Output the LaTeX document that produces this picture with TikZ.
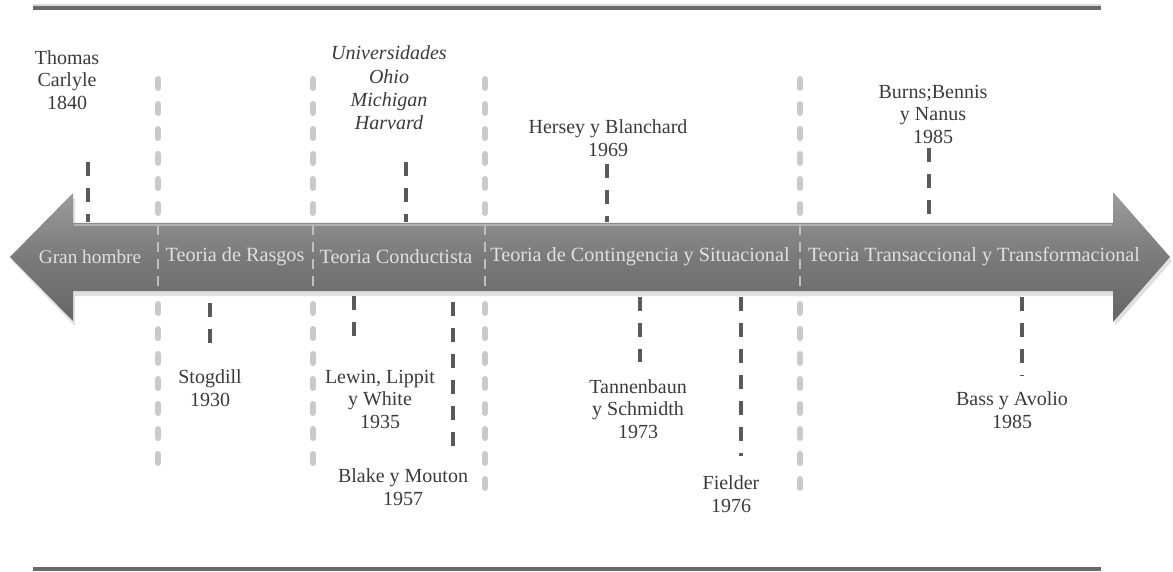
\documentclass[tikz,border=0pt]{standalone}
\usepackage{fontspec}
\setmainfont{Liberation Serif}
\usetikzlibrary{shadows}
\definecolor{txt}{HTML}{3A3A3A}
\definecolor{tick}{HTML}{5A5A5A}
\definecolor{sep}{HTML}{CACACA}
\definecolor{arrtop}{HTML}{9C9C9C}
\definecolor{arrmid}{HTML}{7A7A7A}
\definecolor{arrbot}{HTML}{666666}
\definecolor{rule}{HTML}{6A6A6A}
\begin{document}
\begin{tikzpicture}[x=1pt,y=-1pt,
  lbl/.style={align=center,text=txt,inner sep=0pt,font=\fontsize{20}{22.5}\selectfont},
  ilbl/.style={lbl,font=\fontsize{20}{23.3}\selectfont\itshape},
  phase/.style={text=white!88!black,inner sep=0pt,font=\fontsize{20.2}{22}\selectfont},
  tickline/.style={draw=tick,line width=3.5pt,dash pattern=on 14pt off 12pt},
  sepline/.style={draw=sep,line width=6pt,line cap=round,dash pattern=on 9pt off 16pt},
  sepin/.style={draw=white!75!black,line width=1.5pt,dash pattern=on 10pt off 7pt},
  rulerline/.style={draw=rule,line width=4.5pt}]
\useasboundingbox (0,0) rectangle (1173,572);
% top and bottom rules
\coordinate (r1a) at (33,8); \coordinate (r1b) at (1101,8);
\coordinate (r2a) at (33,569); \coordinate (r2b) at (1101,569);
\draw[draw=black!15,line width=4pt] ([yshift=2]r1a) -- ([yshift=2]r1b);
\draw[rulerline] (r1a) -- (r1b);
\draw[rulerline] (r2a) -- (r2b);
% separators (behind arrow)
\foreach \n/\x/\yb in {s1/158/478, s2/313/478, s3/485/488, s4/800/488}{
  \coordinate (\n a) at (\x,79);
  \coordinate (\n b) at (\x,\yb);
  \draw[sepline] (\n a) -- (\n b);
}
% double arrow
\path[fill=black!12] (12,261) -- (75,197) -- (75,227) -- (1115,227) -- (1115,196) -- (1172,261)
  -- (1115,326) -- (1115,296) -- (75,296) -- (75,326) -- cycle;
\shade[top color=arrtop,bottom color=arrbot,middle color=arrmid]
  (10,257) -- (73,193) -- (73,223) -- (1113,223) -- (1113,192) -- (1170,257)
  -- (1113,322) -- (1113,291) -- (73,291) -- (73,321) -- cycle;
\draw[white!70!black,line width=2pt] (74,225) -- (1112,225);
% thin separator marks inside arrow
\foreach \x in {158,313,485,800}{
  \draw[sepin] (\x,225) -- (\x,291);
}
% phase labels
\node[phase,font=\fontsize{19.3}{22}\selectfont] (p1) at (90,257) {Gran hombre};
\node[phase] (p2) at (235,257) {Teoria de Rasgos};
\node[phase] (p3) at (396,257) {Teoria Conductista};
\node[phase] (p4) at (640,257) {Teoria de Contingencia y Situacional};
\node[phase] (p5) at (974,257) {Teoria Transaccional y Transformacional};
% upper labels
\node[lbl] (carlyle) at (67,80) {Thomas\\Carlyle\\1840};
\node[ilbl] (univ) at (389,88) {Universidades\\Ohio\\Michigan\\Harvard};
\node[lbl] (hersey) at (608,138) {Hersey y Blanchard\\1969};
\node[lbl] (burns) at (933,114) {Burns;Bennis\\y Nanus\\1985};
% lower labels
\node[lbl] (stog) at (210,388) {Stogdill\\1930};
\node[lbl] (lewin) at (380,399) {Lewin, Lippit\\y White\\1935};
\node[lbl] (blake) at (403,487) {Blake y Mouton\\1957};
\node[lbl] (tann) at (638,409) {Tannenbaun\\y Schmidth\\1973};
\node[lbl] (fiel) at (731,494) {Fielder\\1976};
\node[lbl] (bass) at (1012,410) {Bass y Avolio\\1985};
% tick lines
\foreach \n/\x/\ya/\yb in {tc/88/162/222, tu/406/162/222, th/607/164/222, tb/929/148/215,
  ts/210/303/346, tl/354/296/339, tk/453/302/447, tt/640/297/362, tf/741/297/456, ta/1022/297/376}{
  \coordinate (\n a) at (\x,\ya);
  \coordinate (\n b) at (\x,\yb);
  \draw[tickline] (\n a) -- (\n b);
}
\end{tikzpicture}
\end{document}
